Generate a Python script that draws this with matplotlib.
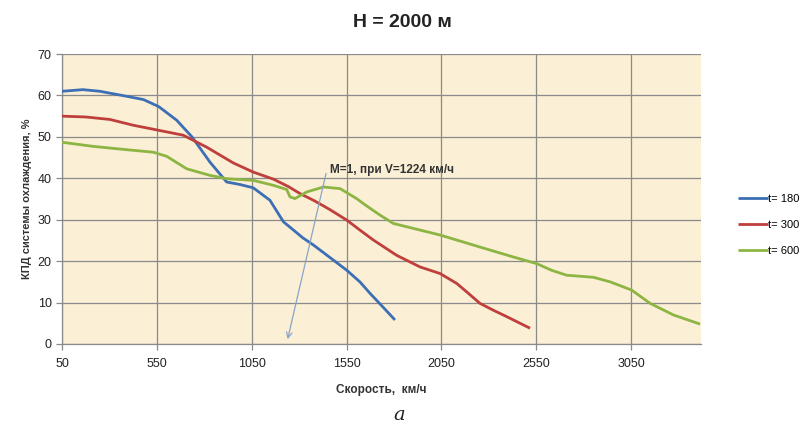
import matplotlib
matplotlib.use("Agg")
import matplotlib.pyplot as plt

plt.rcParams['font.family'] = ['Liberation Sans', 'DejaVu Sans']

# Speed, km/h, and cooling-system efficiency, %, for each series
speed_180 = [50, 160, 250, 390, 480, 560, 655, 735, 830, 918, 988, 1058, 1146, 1217, 1270, 1320, 1375, 1450, 1551, 1620, 1674, 1740, 1805]
eff_180 = [61.0, 61.4, 61.0, 59.8, 59.0, 57.3, 54.0, 50.0, 43.9, 39.1, 38.5, 37.7, 34.7, 29.5, 27.5, 25.6, 23.9, 21.3, 17.8, 15.0, 12.2, 9.0, 5.8]

speed_300 = [50, 175, 303, 426, 558, 689, 813, 953, 1058, 1164, 1243, 1305, 1375, 1460, 1551, 1620, 1691, 1814, 1937, 2043, 2131, 2190, 2253, 2330, 2394, 2517]
eff_300 = [55.0, 54.8, 54.2, 52.8, 51.6, 50.4, 47.5, 43.7, 41.5, 39.8, 38.0, 36.3, 34.7, 32.5, 29.9, 27.5, 25.1, 21.4, 18.6, 17.0, 14.6, 12.3, 9.8, 8.0, 6.6, 3.8]

speed_600 = [50, 215, 391, 531, 602, 707, 830, 918, 988, 1058, 1164, 1234, 1252, 1278, 1340, 1428, 1516, 1603, 1638, 1720, 1796, 1902, 2043, 2253, 2429, 2552, 2630, 2710, 2851, 2939, 3053, 3150, 3273, 3413]
eff_600 = [48.7, 47.7, 46.9, 46.3, 45.3, 42.3, 40.7, 39.9, 39.7, 39.5, 38.3, 37.3, 35.5, 35.1, 36.7, 37.9, 37.5, 35.1, 33.9, 31.3, 29.1, 27.9, 26.3, 23.4, 21.0, 19.4, 17.8, 16.6, 16.1, 15.0, 13.0, 9.8, 7.0, 4.8]

series_labels = ['t= 180', 't= 300', 't= 600']
series_colors = ['#3C6FB4', '#BE3F3B', '#8DB543']

x_ticks = [50, 550, 1050, 1550, 2050, 2550, 3050]
y_ticks = [0, 10, 20, 30, 40, 50, 60, 70]

mach_speed = 1224
note_text = 'M=1, при V=1224 км/ч'

fig = plt.figure(figsize=(8.04, 4.28), dpi=100)
fig.patch.set_facecolor('white')
ax = fig.add_axes([0.0771, 0.1963, 0.7948, 0.6775])
ax.set_facecolor('#FBEFD6')

for xs, ys, lab, col in zip([speed_180, speed_300, speed_600],
                            [eff_180, eff_300, eff_600],
                            series_labels, series_colors):
    ax.plot(xs, ys, color=col, lw=2.0, label=lab, solid_capstyle='butt', zorder=3)

ax.set_xlim(50, 3418)
ax.set_ylim(0, 70)
ax.set_xticks(x_ticks)
ax.set_yticks(y_ticks)
ax.grid(True, color='#8A8A8A', lw=0.9, zorder=1)
ax.set_axisbelow(True)
for s in ['top', 'right']:
    ax.spines[s].set_visible(False)
for s in ['left', 'bottom']:
    ax.spines[s].set_color('#8A8A8A')
    ax.spines[s].set_linewidth(0.9)
ax.tick_params(axis='both', colors='#8A8A8A', length=4, width=0.9,
               labelcolor='#222222', labelsize=9)
ax.tick_params(axis='x', pad=6)

ax.set_xlabel('Скорость,  км/ч', fontsize=8.5, fontweight='bold', color='#333333', labelpad=10)
ax.set_ylabel('КПД системы охлаждения, %', fontsize=8, fontweight='bold', color='#333333', labelpad=4)

fig.text(0.5, 0.948, 'H = 2000 м', ha='center', va='center', fontsize=14, fontweight='bold', color='#222222')

ax.annotate('', xy=(mach_speed + 12, 0.5), xytext=(1445, 41.8),
            arrowprops=dict(arrowstyle='->', color='#8BA4CA', lw=0.9), zorder=4)
ax.text(1460, 41.9, note_text, fontsize=8.5, fontweight='bold', color='#333333', va='center', ha='left', zorder=5)

leg = ax.legend(loc='upper left', bbox_to_anchor=(0.912, 0.558), bbox_transform=fig.transFigure,
                frameon=False, fontsize=8, handlelength=2.7, handletextpad=0.05,
                labelspacing=1.45, borderaxespad=0)

fig.text(0.497, 0.03, 'а', ha='center', va='center', fontsize=14, style='italic',
         family=['DejaVu Serif'], color='#222222')

fig.savefig('out.png', dpi=100)
